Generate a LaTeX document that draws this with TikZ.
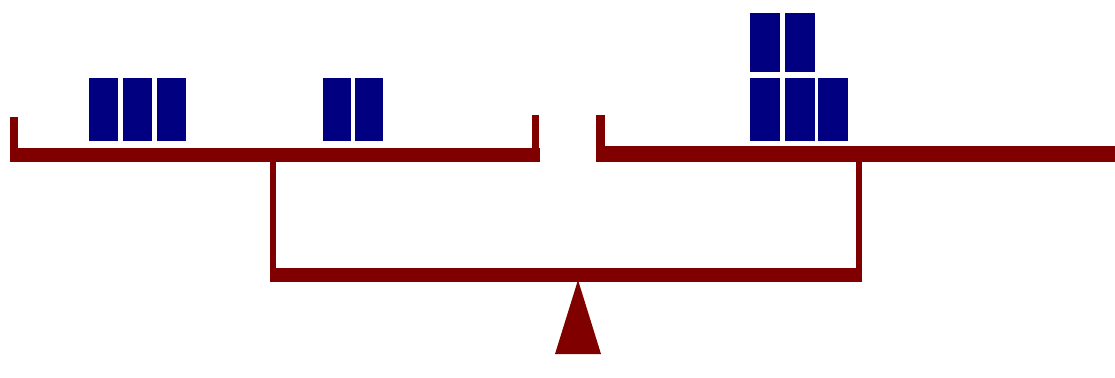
\documentclass[tikz,border=0pt]{standalone}
\usepackage{tikz}
\usepackage{xcolor}
\definecolor{beamred}{HTML}{800000}
\definecolor{weightblue}{HTML}{000080}

\begin{document}
\begin{tikzpicture}[
  x=0.02cm, y=-0.02cm,
  beam/.style={fill=beamred, draw=none},
  weight/.style={fill=weightblue, draw=none},
]
  \useasboundingbox (0,0) rectangle (1115,378);

  % Left pan
  \fill[beam] (12,148) rectangle (540,162);
  \fill[beam] (10,117) rectangle (18,162);
  \fill[beam] (532,115) rectangle (539,162);

  % Right pan
  \fill[beam] (598,146) rectangle (1115,162);
  \fill[beam] (596,115) rectangle (605,162);

  % Arms and lower beam
  \fill[beam] (270,160) rectangle (276,282);
  \fill[beam] (856,160) rectangle (862,282);
  \fill[beam] (270,268) rectangle (862,282);

  % Pivot
  \fill[beam] (578,280) -- (601,354) -- (555,354) -- cycle;

  % Weights, left pan
  \foreach \x in {89,123,157} {
    \fill[weight] (\x,78) rectangle ++(29,63);
  }
  \foreach \x in {323,355} {
    \fill[weight] (\x,78) rectangle ++(28,63);
  }

  % Weights, right pan
  \foreach \x in {750,785,818} {
    \fill[weight] (\x,78) rectangle ++(30,63);
  }
  \foreach \x in {750,785} {
    \fill[weight] (\x,13) rectangle ++(30,59);
  }
\end{tikzpicture}
\end{document}
